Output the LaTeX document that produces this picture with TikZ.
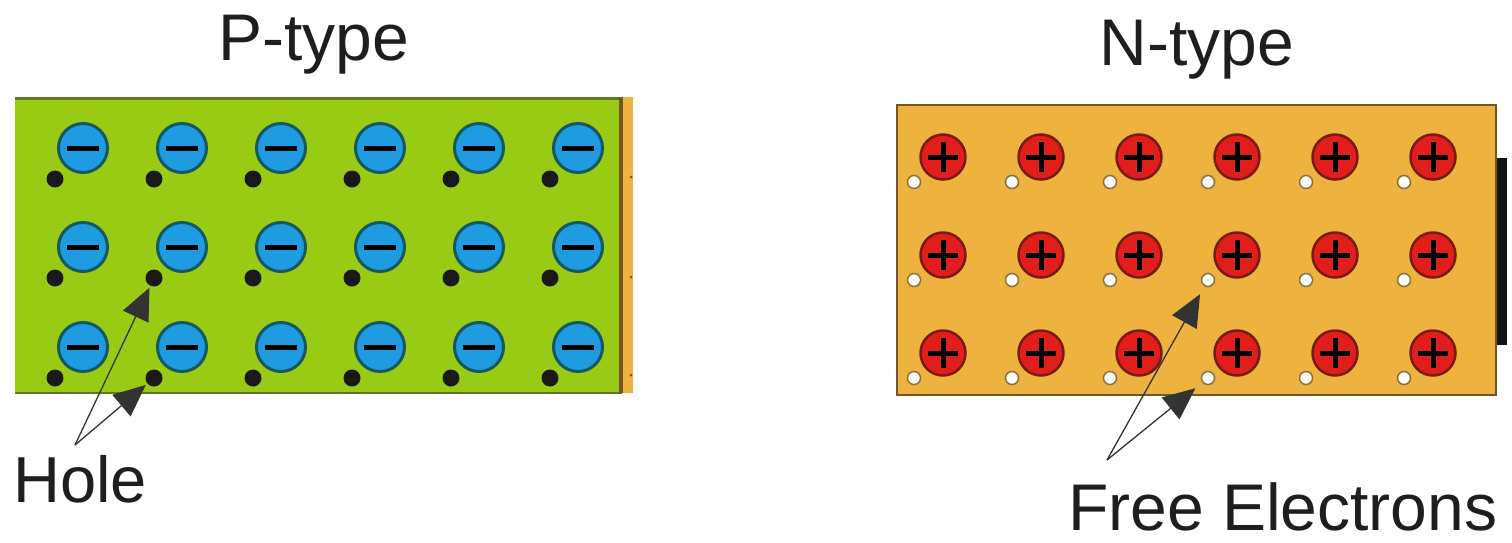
\documentclass[tikz,border=0pt]{standalone}
\usepackage{fontspec}
\setmainfont{Liberation Sans}
\usetikzlibrary{arrows.meta}
\definecolor{pgreen}{RGB}{154,203,20}
\definecolor{pgreenedge}{RGB}{95,118,38}
\definecolor{ionblue}{RGB}{30,155,225}
\definecolor{ionblueedge}{RGB}{22,88,98}
\definecolor{norange}{RGB}{238,178,62}
\definecolor{norangeedge}{RGB}{115,85,40}
\definecolor{ionred}{RGB}{226,30,28}
\definecolor{ionrededge}{RGB}{120,28,16}
\definecolor{holeedge}{RGB}{135,112,60}
\definecolor{txt}{RGB}{30,30,30}
\tikzset{
  x=1pt, y=-1pt,
  negion/.style={circle, inner sep=0pt, minimum size=49pt, fill=ionblue, draw=ionblueedge, line width=3pt,
    path picture={\draw[line width=5pt, black] ([xshift=-16pt]path picture bounding box.center) -- ([xshift=16pt]path picture bounding box.center);}},
  posion/.style={circle, inner sep=0pt, minimum size=45pt, fill=ionred, draw=ionrededge, line width=2.5pt,
    path picture={\draw[line width=5pt, black] ([xshift=-15pt]path picture bounding box.center) -- ([xshift=15pt]path picture bounding box.center);
                  \draw[line width=5pt, black] ([yshift=-15pt]path picture bounding box.center) -- ([yshift=15pt]path picture bounding box.center);}},
  hole/.style={circle, inner sep=0pt, minimum size=17pt, fill=black!90},
  elec/.style={circle, inner sep=0pt, minimum size=13pt, fill=white, draw=holeedge, line width=1.5pt},
  title/.style={font=\fontsize{66}{78}\selectfont, text=txt, inner sep=0pt},
  lbl/.style={font=\fontsize{65}{78}\selectfont, text=txt, inner sep=0pt, text depth=0pt},
  pointer/.style={draw=black!80, line width=1.3pt, -{Triangle[length=32pt,width=28pt]}},
}
\begin{document}
\begin{tikzpicture}
\useasboundingbox[fill=white] (0,0) rectangle (1512,542);
% P-type block
\fill[norange] (620,97) rectangle (633,393);
\foreach \yy in {177,277,375} \fill[norangeedge] (631,\yy) circle (1.5pt);
\fill[pgreen] (15,97) rectangle (622,393);
\draw[pgreenedge, line width=3pt] (15,98.5) -- (622,98.5);
\draw[pgreenedge, line width=2pt] (15,393) -- (622,393);
\draw[norangeedge, line width=4pt] (621,97) -- (621,393);
% N-type block
\fill[black!92] (1494,158) rectangle (1507,345);
\draw[fill=norange, draw=norangeedge, line width=2pt] (897,105) rectangle (1496,395);
% ions and carriers
\foreach \c [count=\i] in {0,...,5} {
  \foreach \r [count=\j] in {148,247,347} {
    \node[negion] (pn-\j-\i) at (83+99*\c,\r) {};
    \node[hole] (ph-\j-\i) at (55+99*\c,\r+31) {};
  }
  \foreach \r [count=\j] in {157,255,353} {
    \node[posion] (np-\j-\i) at (943+98*\c,\r) {};
    \node[elec] (ne-\j-\i) at (914+98*\c,\r+25) {};
  }
}
% titles
\node[title, anchor=base] (ptitle) at (314,60) {P-type};
\node[title, anchor=base] (ntitle) at (1197,65) {N-type};
% labels
\node[lbl, anchor=base west] (holelbl) at (13,502) {Hole};
\node[lbl, anchor=base west, font=\fontsize{66}{78}\selectfont] (freelbl) at (1068,530) {Free Electrons};
\coordinate (hapex) at (75,445);
\coordinate (fapex) at (1107,460);
\draw[pointer, shorten >=2pt] (hapex) -- (ph-2-2);
\draw[pointer, shorten >=2pt] (hapex) -- (ph-3-2);
\draw[pointer, shorten >=9pt] (fapex) -- (ne-2-4);
\draw[pointer, shorten >=9pt] (fapex) -- (ne-3-4);
\end{tikzpicture}
\end{document}
